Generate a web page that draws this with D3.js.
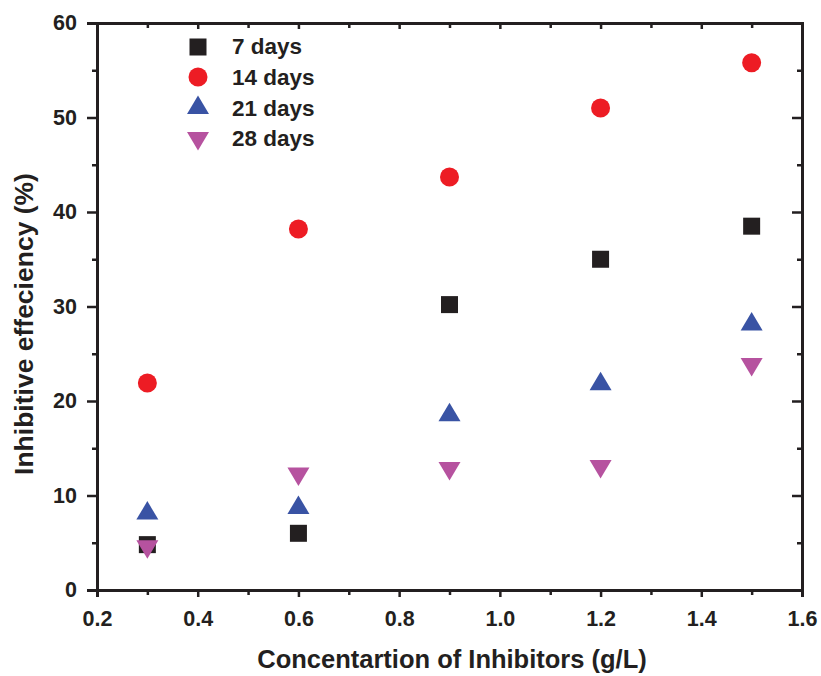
<!DOCTYPE html>
<html><head><meta charset="utf-8">
<script src="https://cdn.jsdelivr.net/npm/d3@7"></script>
<style>body{margin:0;background:#fff}svg{display:block}text{font-family:"Liberation Sans",Arial,sans-serif;font-weight:bold;fill:#231f20}</style>
</head><body>
<script>
const concentrations = [0.3, 0.6, 0.9, 1.2, 1.5];
const seriesNames = ["7 days", "14 days", "21 days", "28 days"];
const days7  = [4.8, 6.0, 30.2, 35.0, 38.5];
const days14 = [21.9, 38.2, 43.7, 51.0, 55.8];
const days21 = [8.4, 9.0, 18.8, 22.1, 28.4];
const days28 = [4.3, 12.0, 12.6, 12.8, 23.6];
const xTicks = [0.2, 0.4, 0.6, 0.8, 1.0, 1.2, 1.4, 1.6];
const yTicks = [0, 10, 20, 30, 40, 50, 60];

const W = 821, H = 676;
const mLeft = 97, mRight = 802, mTop = 23, mBottom = 590;
const ink = "#231f20";
const colors = ["#231f20", "#ed1c24", "#3953a4", "#b6529f"];
const shapes = ["square", "circle", "up", "down"];
const allSeries = [days7, days14, days21, days28];

const svg = d3.select("body").append("svg").attr("width", W).attr("height", H);
const x = d3.scaleLinear().domain([0.2, 1.6]).range([mLeft, mRight]);
const y = d3.scaleLinear().domain([0, 60]).range([mBottom, mTop]);

const minorX = [0.3, 0.5, 0.7, 0.9, 1.1, 1.3, 1.5];
const minorY = [5, 15, 25, 35, 45, 55];

svg.append("g").attr("transform", `translate(0,${mBottom})`)
  .call(d3.axisBottom(x).tickValues(xTicks).tickFormat(d3.format(".1f")).tickSize(7).tickPadding(14));
svg.append("g").attr("transform", `translate(0,${mBottom})`)
  .call(d3.axisBottom(x).tickValues(minorX).tickFormat("").tickSize(5));
svg.append("g").attr("transform", `translate(0,${mTop})`)
  .call(d3.axisTop(x).tickValues(xTicks).tickFormat("").tickSize(-6));
svg.append("g").attr("transform", `translate(0,${mTop})`)
  .call(d3.axisTop(x).tickValues(minorX).tickFormat("").tickSize(-5));
svg.append("g").attr("transform", `translate(${mLeft},0)`)
  .call(d3.axisLeft(y).tickValues(yTicks).tickFormat(d3.format("d")).tickSize(10).tickPadding(10));
svg.append("g").attr("transform", `translate(${mLeft},0)`)
  .call(d3.axisLeft(y).tickValues(minorY).tickFormat("").tickSize(5));
svg.append("g").attr("transform", `translate(${mRight},0)`)
  .call(d3.axisRight(y).tickValues(yTicks).tickFormat("").tickSize(-10));
svg.append("g").attr("transform", `translate(${mRight},0)`)
  .call(d3.axisRight(y).tickValues(minorY).tickFormat("").tickSize(-5));

svg.selectAll(".domain").attr("stroke", ink).attr("stroke-width", 3);
svg.selectAll(".tick line").attr("stroke", ink).attr("stroke-width", 2.5);
svg.selectAll(".tick text").style("font-size", "21.5px").attr("fill", ink);

function sym(g, shape, color) {
  if (shape === "square") g.append("rect").attr("x", -8.5).attr("y", -8.5).attr("width", 17).attr("height", 17).attr("fill", color);
  else if (shape === "circle") g.append("circle").attr("r", 9.5).attr("fill", color);
  else if (shape === "up") g.append("path").attr("d", "M0,-9.5L11,9L-11,9Z").attr("fill", color);
  else g.append("path").attr("d", "M0,9.5L11,-9L-11,-9Z").attr("fill", color);
}

allSeries.forEach((vals, i) => {
  vals.forEach((v, j) => {
    const g = svg.append("g").attr("transform", `translate(${x(concentrations[j])},${y(v)})`);
    sym(g, shapes[i], colors[i]);
  });
});

const legSymY = [47, 77, 105, 141];
const legTxtY = [54, 85, 115.5, 146];
seriesNames.forEach((n, i) => {
  const g = svg.append("g").attr("transform", `translate(198,${legSymY[i]})`);
  sym(g, shapes[i], colors[i]);
  svg.append("text").attr("x", 232).attr("y", legTxtY[i]).style("font-size", "22.5px").text(n);
});

svg.append("text").attr("x", 452).attr("y", 668).attr("text-anchor", "middle").style("font-size", "25.5px")
  .text("Concentartion of Inhibitors (g/L)");
svg.append("text").attr("transform", "translate(33,324) rotate(-90)").attr("text-anchor", "middle").style("font-size", "26.5px")
  .text("Inhibitive effeciency (%)");
</script>
</body></html>
